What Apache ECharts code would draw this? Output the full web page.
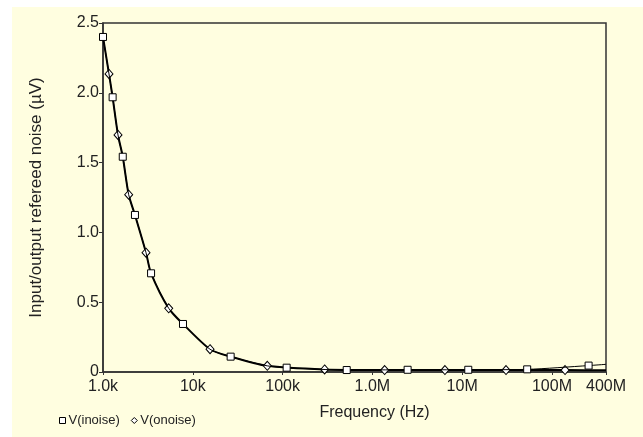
<!DOCTYPE html>
<html>
<head>
<meta charset="utf-8">
<script src="https://cdn.jsdelivr.net/npm/echarts@6/dist/echarts.min.js"></script>
<style>
html,body{margin:0;padding:0;background:#fff;}
#chart{width:643px;height:437px;}
</style>
</head>
<body>
<div id="chart"></div>
<script>
// Frequencies (Hz) and values (µV)
const inoiseFreq = [1000, 1280, 1660, 2270, 3430, 7780, 26400, 111000, 518000, 2470000, 11700000, 53000000, 256000000, 400000000];
const inoiseVal  = [2.40, 1.968, 1.542, 1.125, 0.707, 0.344, 0.110, 0.031, 0.014, 0.016, 0.016, 0.019, 0.046, 0.055];
const onoiseFreq = [1000, 1166, 1469, 1932, 3013, 5395, 15560, 67600, 294000, 1370000, 6430000, 30800000, 140000000, 400000000];
const onoiseVal  = [2.40, 2.135, 1.698, 1.270, 0.855, 0.456, 0.163, 0.044, 0.018, 0.014, 0.014, 0.014, 0.014, 0.012];
// indices of data points drawn without a marker (curve ends)
const inoiseNoMarker = [13];
const onoiseNoMarker = [0, 13];
// below this frequency both curves coincide in the reference
const sharedBelow = 100000;
const xTickValues = [1e3, 1e4, 1e5, 1e6, 1e7, 1e8, 4e8];
const xTickLabels = ['1.0k', '10k', '100k', '1.0M', '10M', '100M', '400M'];
const yTickValues = [0, 0.5, 1.0, 1.5, 2.0, 2.5];
const yTickLabels = ['0', '0.5', '1.0', '1.5', '2.0', '2.5'];
const seriesNames = ['V(inoise)', 'V(onoise)'];

function build(freq, val, noMarker, otherFreq, otherVal) {
  const pts = freq.map((f, i) => noMarker.includes(i)
    ? { value: [f, val[i]], symbol: 'none' }
    : { value: [f, val[i]] });
  // the other series' marker points on the shared low-frequency curve, without markers
  otherFreq.forEach((f, i) => {
    if (f < sharedBelow && !freq.includes(f)) pts.push({ value: [f, otherVal[i]], symbol: 'none' });
  });
  pts.sort((a, b) => a.value[0] - b.value[0]);
  return pts;
}
function xLabel(v) {
  for (let i = 0; i < xTickValues.length; i++) {
    if (Math.abs(v - xTickValues[i]) / xTickValues[i] < 1e-6) return xTickLabels[i];
  }
  return '';
}
function yLabel(v) {
  for (let i = 0; i < yTickValues.length; i++) {
    if (Math.abs(v - yTickValues[i]) < 1e-6) return yTickLabels[i];
  }
  return '';
}

const font = 'Liberation Sans, Arial, sans-serif';
const chart = echarts.init(document.getElementById('chart'), null, { renderer: 'canvas' });
chart.setOption({
  animation: false,
  backgroundColor: '#ffffff',
  graphic: [{
    type: 'rect', left: 12, top: 7, z: -10, silent: true,
    shape: { width: 631, height: 430 },
    style: { fill: '#FFFEE0' }
  }],
  grid: {
    left: 103, top: 23, right: 37, bottom: 65,
    show: true, borderColor: '#333', borderWidth: 1.5, backgroundColor: 'transparent'
  },
  legend: {
    left: 54, top: 409, orient: 'horizontal',
    itemWidth: 6, itemHeight: 6, itemGap: 11,
    textStyle: { fontFamily: font, fontSize: 13, color: '#222', padding: [0, 0, 0, -2] },
    data: [
      { name: seriesNames[0], icon: 'rect', itemStyle: { color: '#fff', borderColor: '#000', borderWidth: 1 } },
      { name: seriesNames[1], icon: 'diamond', itemStyle: { color: '#fff', borderColor: '#000', borderWidth: 1 } }
    ]
  },
  xAxis: {
    type: 'log', logBase: 10, min: 1000, max: 4e8, interval: 1,
    name: 'Frequency (Hz)', nameLocation: 'middle', nameGap: 33,
    nameTextStyle: { fontFamily: font, fontSize: 16, color: '#222', padding: [0, 0, 0, 40] },
    axisLine: { show: true, lineStyle: { color: '#333', width: 1.5 } },
    axisTick: { show: true, length: 3, lineStyle: { color: '#333' } },
    minorTick: { show: false },
    splitLine: { show: false },
    axisLabel: { fontFamily: font, fontSize: 16, color: '#222', margin: 7, showMaxLabel: true, showMinLabel: true, formatter: xLabel }
  },
  yAxis: {
    type: 'value', min: 0, max: 2.5, interval: 0.5,
    name: 'Input/output refereed noise (\u00B5V)', nameLocation: 'middle', nameGap: 58,
    nameTextStyle: { fontFamily: font, fontSize: 17, color: '#222' },
    axisLine: { show: true, lineStyle: { color: '#333', width: 1.5 } },
    axisTick: { show: true, length: 4, lineStyle: { color: '#333' } },
    splitLine: { show: false },
    axisLabel: { fontFamily: font, fontSize: 16, color: '#222', margin: 4, formatter: yLabel }
  },
  series: [
    {
      name: seriesNames[0], type: 'line', data: build(inoiseFreq, inoiseVal, inoiseNoMarker, onoiseFreq, onoiseVal),
      smooth: 0.25, symbol: 'rect', symbolSize: 7, showAllSymbol: true,
      lineStyle: { color: '#000', width: 1 },
      itemStyle: { color: '#fff', borderColor: '#000', borderWidth: 1 },
      z: 3
    },
    {
      name: seriesNames[1], type: 'line', data: build(onoiseFreq, onoiseVal, onoiseNoMarker, inoiseFreq, inoiseVal),
      smooth: 0.25, symbol: 'diamond', symbolSize: [8, 9], showAllSymbol: true,
      lineStyle: { color: '#000', width: 2 },
      itemStyle: { color: '#fff', borderColor: '#000', borderWidth: 1 },
      z: 2
    }
  ]
});
</script>
</body>
</html>
